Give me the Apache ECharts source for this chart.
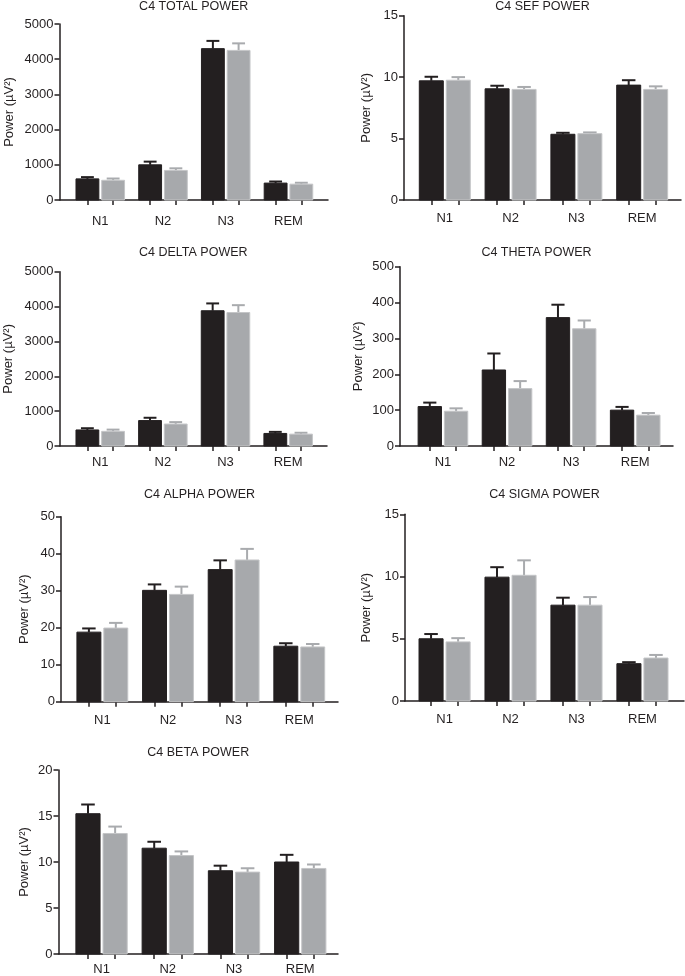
<!DOCTYPE html>
<html>
<head>
<meta charset="utf-8">
<script src="https://cdn.jsdelivr.net/npm/echarts@6/dist/echarts.min.js"></script>
<style>html,body{margin:0;padding:0;background:#fff;}#chart{width:685px;height:976px;}</style>
</head>
<body>
<div id="chart"></div>
<script>
// ---------- data ----------
const categories = ['N1', 'N2', 'N3', 'REM'];
const panelTitles = ['C4 TOTAL POWER', 'C4 SEF POWER', 'C4 DELTA POWER', 'C4 THETA POWER',
  'C4 ALPHA POWER', 'C4 SIGMA POWER', 'C4 BETA POWER'];
const yAxisName = 'Power (\u00B5V\u00B2)';
const yMaxes = [5000, 15, 5000, 500, 50, 15, 20];
const yIntervals = [1000, 5, 1000, 100, 10, 5, 5];

const totalMeanA = [600, 1000, 4300, 480];   const totalErrA = [50, 90, 220, 45];
const totalMeanB = [560, 840, 4250, 450];    const totalErrB = [50, 60, 200, 40];
const sefMeanA = [9.7, 9.05, 5.35, 9.35];    const sefErrA = [0.33, 0.25, 0.12, 0.4];
const sefMeanB = [9.75, 9.0, 5.4, 9.0];      const sefErrB = [0.25, 0.2, 0.1, 0.25];
const deltaMeanA = [460, 730, 3880, 360];    const deltaErrA = [50, 80, 210, 45];
const deltaMeanB = [420, 630, 3830, 340];    const deltaErrB = [50, 55, 210, 40];
const thetaMeanA = [110, 212, 358, 100];     const thetaErrA = [11, 46, 36, 9];
const thetaMeanB = [97, 160, 327, 86];       const thetaErrB = [8, 21, 23, 6];
const alphaMeanA = [18.8, 30.1, 35.7, 15.0]; const alphaErrA = [1.0, 1.6, 2.5, 0.8];
const alphaMeanB = [19.9, 29.0, 38.3, 14.8]; const alphaErrB = [1.4, 2.1, 3.0, 0.8];
const sigmaMeanA = [5.0, 9.95, 7.7, 3.0];    const sigmaErrA = [0.38, 0.8, 0.6, 0.12];
const sigmaMeanB = [4.75, 10.1, 7.7, 3.45];  const sigmaErrB = [0.3, 1.2, 0.65, 0.25];
const betaMeanA = [15.25, 11.5, 9.05, 10.0]; const betaErrA = [1.0, 0.7, 0.55, 0.78];
const betaMeanB = [13.1, 10.7, 8.9, 9.3];    const betaErrB = [0.75, 0.45, 0.42, 0.43];

const panelData = [
  [totalMeanA, totalErrA, totalMeanB, totalErrB],
  [sefMeanA, sefErrA, sefMeanB, sefErrB],
  [deltaMeanA, deltaErrA, deltaMeanB, deltaErrB],
  [thetaMeanA, thetaErrA, thetaMeanB, thetaErrB],
  [alphaMeanA, alphaErrA, alphaMeanB, alphaErrB],
  [sigmaMeanA, sigmaErrA, sigmaMeanB, sigmaErrB],
  [betaMeanA, betaErrA, betaMeanB, betaErrB]
];

// ---------- layout & style ----------
const W = 685;
const layout = [
  {left: 59.5, end: 328, top: 24, height: 176, xmin: -0.65, xmax: 3.63, titleTop: 0, nameGap: 44, labelMargin: 15},
  {left: 404, end: 681, top: 15.7, height: 184.3, xmin: -0.62, xmax: 3.59, titleTop: 0, nameGap: 31, labelMargin: 12},
  {left: 59.5, end: 327, top: 271.7, height: 174.3, xmin: -0.65, xmax: 3.62, titleTop: 246, nameGap: 45, labelMargin: 10},
  {left: 400, end: 673, top: 266.7, height: 179.3, xmin: -0.67, xmax: 3.59, titleTop: 246, nameGap: 35, labelMargin: 10},
  {left: 61, end: 338, top: 516.7, height: 185, xmin: -0.63, xmax: 3.59, titleTop: 488, nameGap: 30, labelMargin: 12},
  {left: 405, end: 684, top: 514.3, height: 186.7, xmin: -0.6, xmax: 3.63, titleTop: 488, nameGap: 32, labelMargin: 12},
  {left: 58.5, end: 338, top: 770, height: 186, xmin: -0.65, xmax: 3.57, titleTop: 746, nameGap: 28, labelMargin: 9}
];
const BAR_OFFSET = 0.205;
const BAR_WIDTH = 0.38;
const INK = '#231f20';
const GREY = '#a7a9ac';
const FONT = 'Liberation Sans, Arial, Helvetica, sans-serif';
const seriesStyles = [
  {name: 'Group A', offset: -BAR_OFFSET, fill: INK, stroke: INK, err: INK},
  {name: 'Group B', offset: BAR_OFFSET, fill: GREY, stroke: '#c4c5c7', err: '#a9abae'}
];

const tickValues = [];
categories.forEach((c, i) => { tickValues.push(i - BAR_OFFSET, i + BAR_OFFSET); });

function makeRender(st) {
  return function (params, api) {
    const i = api.value(0), v = api.value(1), e = api.value(2);
    const x = i + st.offset;
    const unit = api.size([1, 0])[0];
    const bw = unit * BAR_WIDTH;
    const base = api.coord([x, 0]);
    const top = api.coord([x, v]);
    const errTop = api.coord([x, v + e]);
    const cx = base[0];
    const capHalf = bw * 0.27;
    return {
      type: 'group',
      children: [
        {type: 'line', shape: {x1: cx, y1: top[1], x2: cx, y2: errTop[1]},
         style: {stroke: st.err, lineWidth: 2}},
        {type: 'line', shape: {x1: cx - capHalf, y1: errTop[1], x2: cx + capHalf, y2: errTop[1]},
         style: {stroke: st.err, lineWidth: 2}},
        {type: 'rect', shape: {x: cx - bw / 2 + 0.5, y: top[1], width: bw - 1, height: base[1] - top[1]},
         style: {fill: st.fill, stroke: st.stroke, lineWidth: 1}}
      ]
    };
  };
}

const grids = [], xAxes = [], yAxes = [], series = [], titles = [];
layout.forEach((L, p) => {
  grids.push({left: L.left, right: W - L.end, top: L.top, height: L.height, containLabel: false});
  titles.push({
    text: panelTitles[p],
    left: (L.left + L.end) / 2,
    top: L.titleTop,
    textAlign: 'center',
    padding: 0,
    textStyle: {fontFamily: FONT, fontSize: 12.5, fontWeight: 'normal', color: INK}
  });
  xAxes.push({
    type: 'value', gridIndex: p, min: L.xmin, max: L.xmax,
    splitLine: {show: false},
    axisLine: {show: true, onZero: false, lineStyle: {color: INK, width: 1.5}},
    axisTick: {show: true, customValues: tickValues, length: 5, lineStyle: {color: INK, width: 1.5}},
    axisLabel: {show: true, customValues: [0, 1, 2, 3], margin: L.labelMargin,
      formatter: v => categories[Math.round(v)],
      fontFamily: FONT, fontSize: 13, color: INK}
  });
  yAxes.push({
    type: 'value', gridIndex: p, min: 0, max: yMaxes[p], interval: yIntervals[p],
    name: yAxisName, nameLocation: 'middle', nameGap: L.nameGap, nameRotate: 90,
    nameTextStyle: {fontFamily: FONT, fontSize: 13, color: INK},
    splitLine: {show: false},
    axisLine: {show: true, onZero: false, lineStyle: {color: INK, width: 1.5}},
    axisTick: {show: true, length: 5, lineStyle: {color: INK, width: 1.5}},
    axisLabel: {margin: 6, fontFamily: FONT, fontSize: 13, color: INK,
      formatter: v => String(v)}
  });
  const d = panelData[p];
  seriesStyles.forEach((st, s) => {
    const means = d[s * 2], errs = d[s * 2 + 1];
    series.push({
      type: 'custom', name: st.name, xAxisIndex: p, yAxisIndex: p, clip: false,
      renderItem: makeRender(st),
      encode: {x: 0, y: 1},
      data: categories.map((c, i) => [i, means[i], errs[i]])
    });
  });
});

const chart = echarts.init(document.getElementById('chart'), null, {renderer: 'canvas'});
chart.setOption({
  animation: false,
  backgroundColor: '#fff',
  title: titles,
  grid: grids,
  xAxis: xAxes,
  yAxis: yAxes,
  series: series
});
</script>
</body>
</html>
